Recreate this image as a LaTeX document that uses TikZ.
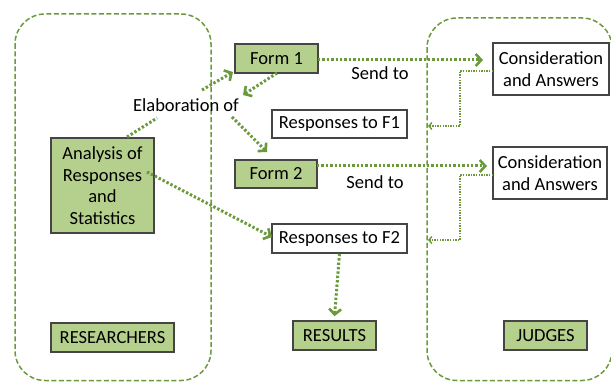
\documentclass[tikz,border=0pt]{standalone}
\usepackage{fontspec}
\setmainfont{Carlito}
\usetikzlibrary{arrows.meta}
\definecolor{boxgreen}{HTML}{B5CF8D}
\definecolor{linegreen}{HTML}{6A9A3C}
\definecolor{boxborder}{HTML}{454545}
\tikzset{
  base/.style={draw=boxborder, line width=1.6pt, align=center, inner sep=0pt,
    font=\fontsize{18.5}{21.5}\selectfont, text=black},
  greenbox/.style={base, fill=boxgreen},
  whitebox/.style={base, fill=white},
  container/.style={draw=linegreen, line width=1.5pt, dash pattern=on 5pt off 2.5pt, rounded corners=30pt},
  dotarrow/.style={draw=linegreen, line width=3pt, dash pattern=on 2.4pt off 2pt,
    -{Straight Barb[length=5.5pt,width=12pt,line width=2.6pt]}},
  dotline/.style={draw=linegreen, line width=3pt, dash pattern=on 2.4pt off 2pt},
  thinarrow/.style={draw=linegreen, line width=1.4pt, dash pattern=on 1.4pt off 1.2pt,
    -{Straight Barb[length=3pt,width=7pt,line width=1.4pt]}},
  lbl/.style={font=\fontsize{18.5}{21.5}\selectfont, inner sep=1pt}
}
\begin{document}
\begin{tikzpicture}[x=1pt,y=-1pt]
\useasboundingbox (0,0) rectangle (611,382);
\begin{scope}
\clip (0,0) rectangle (611,382);
\draw[container] (15,14) rectangle (211,380.5);
\draw[container] (427,18) rectangle (612,380.5);
\end{scope}

\node[greenbox, minimum width=83pt, minimum height=29pt] (form1) at (276.5,58.5) {Form 1};
\node[whitebox, minimum width=135pt, minimum height=28pt] (resp1) at (339.5,124) {Responses to F1};
\node[greenbox, minimum width=82pt, minimum height=28pt] (form2) at (276,174) {Form 2};
\node[greenbox, minimum width=103pt, minimum height=95pt] (analysis) at (102.5,185.5) {Analysis of\\Responses\\and\\Statistics};
\node[whitebox, minimum width=135pt, minimum height=29pt] (resp2) at (339.5,238.5) {Responses to F2};
\node[greenbox, minimum width=123pt, minimum height=29pt] (researchers) at (112.5,337.5) {RESEARCHERS};
\node[greenbox, minimum width=83pt, minimum height=29pt] (results) at (334.5,335.5) {RESULTS};
\node[greenbox, minimum width=83pt, minimum height=29pt] (judges) at (545.5,335.5) {JUDGES};
\node[whitebox, minimum width=116pt, minimum height=52pt] (cons1) at (551,69) {Consideration\\and Answers};
\node[whitebox, minimum width=114pt, minimum height=52pt] (cons2) at (550,173) {Consideration\\and Answers};

\node[lbl] (elab) at (186,105) {Elaboration of};
\node[lbl] (send1) at (380,73) {Send to};
\node[lbl] (send2) at (375,182) {Send to};

% coordinates
\coordinate (f1out) at (318,60);
\coordinate (c1in) at (483,60);
\coordinate (f2out) at (317,166);
\coordinate (c2in) at (487,166);
\coordinate (f1dl) at (277,73);
\coordinate (elabtip) at (243,95);
\coordinate (elabur) at (202,90);
\coordinate (f1tip) at (233,72);
\coordinate (antop) at (127,137);
\coordinate (elabll) at (157,118);
\coordinate (elablr) at (232,117);
\coordinate (f2tip) at (267,152);
\coordinate (anr) at (147,172);
\coordinate (r2tip) at (272,237);
\coordinate (c1out) at (493,71);
\coordinate (c1back) at (428,126);
\coordinate (c2out) at (493,175);
\coordinate (c2back) at (428,240);

\draw[dotarrow] (f1out) -- (c1in);
\draw[dotarrow] (f2out) -- (c2in);
\draw[dotarrow] (f1dl) -- (elabtip);
\draw[dotarrow] (elabur) -- (f1tip);
\draw[dotline] (antop) -- (elabll);
\draw[dotarrow] (elablr) -- (f2tip);
\draw[dotarrow] (anr) -- (r2tip);
\draw[dotarrow] (resp2.south) -- ([yshift=4pt]results.north);

\draw[thinarrow] (c1out) -| (460,126) -- (c1back);
\draw[thinarrow] (c2out) -| (460,240) -- (c2back);
\end{tikzpicture}
\end{document}
